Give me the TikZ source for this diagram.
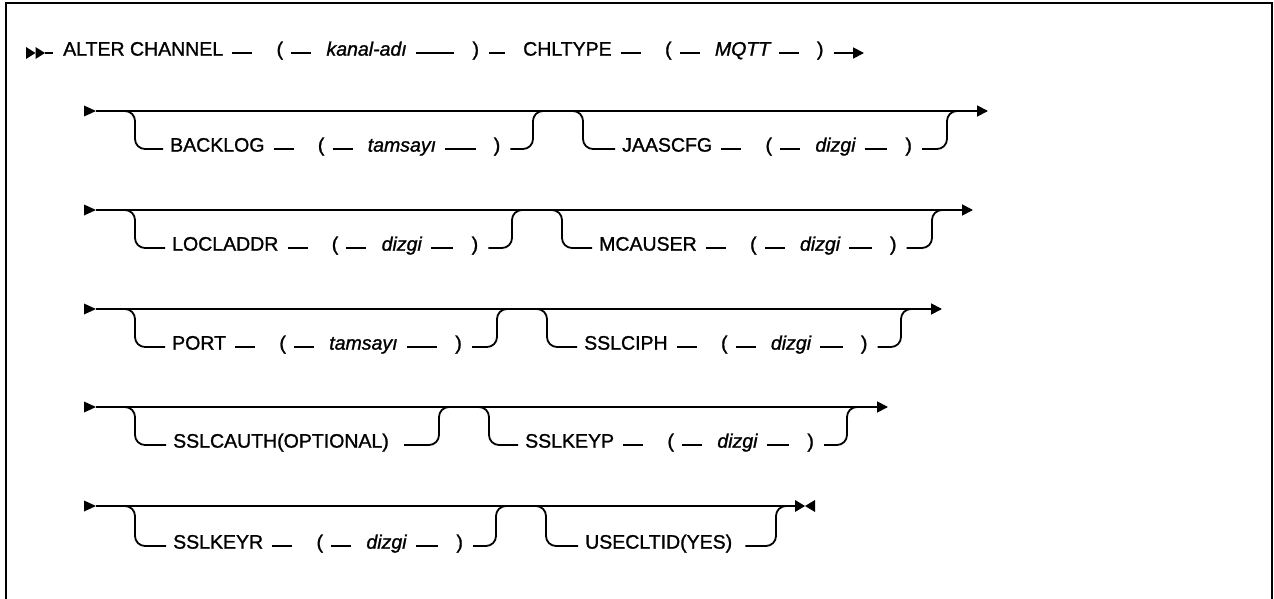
\documentclass[tikz,border=0pt]{standalone}
\usepackage{fontspec}
\setmainfont{Liberation Sans}
\newfontfamily\dfont{Liberation Sans}[FakeBold=1.2]
\usetikzlibrary{arrows.meta}
\newcommand\pgrp[6]{%
  \node[tok] (#1k) at (#2,#3) {#4};
  \node[tok] (#1o) at ([xshift=53pt]#1k.mid east) {(};
  \node[val] (#1v) at ([xshift=43pt]#1o.mid east) {#5};
  \node[tok] (#1c) at ([xshift=#6pt]#1v.mid west) {)};
  \draw[ln] ([xshift=9pt]#1k.mid east) -- ([xshift=-24pt]#1o.mid west);
  \draw[ln] ([xshift=8pt]#1o.mid east) -- ([xshift=-15pt]#1v.mid west);
  \draw[ln] ([xshift=9pt]#1v.mid east) -- ([xshift=-18pt]#1c.mid west);
}
\newcommand\rowstart[2]{%
  \fill (84,#2-5.5) -- (96,#2) -- (84,#2+5.5) -- cycle;
  \coordinate (#1s) at (96,#2);
}
\begin{document}
\begin{tikzpicture}[x=1pt,y=-1pt,
  tok/.style={inner sep=0pt,anchor=mid west,font=\dfont\fontsize{19.5}{23}\selectfont},
  val/.style={tok,font=\dfont\fontsize{19.5}{23}\selectfont\itshape},
  ln/.style={line width=1.8pt},
  brn/.style={line width=1.8pt,rounded corners=10pt},
  tip/.style={-{Triangle[length=11pt,width=11pt]}}]
\useasboundingbox (0,0) rectangle (1274,599);
\fill[white] (0,0) rectangle (1274,599);
\draw[line width=2pt] (6,599) -- (6,3) -- (1272,3) -- (1272,599);

% Row 1
\fill (26,47) -- (35.5,53) -- (26,59) -- cycle;
\fill (35.5,47) -- (45,53) -- (35.5,59) -- cycle;
\coordinate (r1s) at (45,53);
\pgrp{r1a}{63}{53}{ALTER CHANNEL}{kanal-adı}{146}
\pgrp{r1b}{523}{53}{CHLTYPE}{MQTT}{102}
\coordinate (r1e) at (864,53);
\draw[ln] (r1s) -- ([xshift=-10pt]r1ak.mid west);
\draw[ln] ([xshift=10pt]r1ac.mid east) -- ([xshift=-18pt]r1bk.mid west);
\draw[ln,tip] ([xshift=10pt]r1bc.mid east) -- (r1e);

% Row 2
\rowstart{r2}{111}
\coordinate (r2d1) at (135,111); \coordinate (r2u1) at (533,111);
\coordinate (r2d2) at (583,111); \coordinate (r2u2) at (947,111);
\coordinate (r2e) at (988,111);
\draw[ln,tip] (r2s) -- (r2e);
\pgrp{r2a}{170}{149}{BACKLOG}{tamsayı}{126}
\pgrp{r2b}{622}{149}{JAASCFG}{dizgi}{90}
\draw[brn] ([xshift=-15pt]r2d1) -- (r2d1) -- (r2d1 |- r2ak.mid west) -- ([xshift=-7pt]r2ak.mid west);
\draw[brn] ([xshift=10pt]r2ac.mid east) -- (r2ac.mid east -| r2u1) -- (r2u1) -- ([xshift=15pt]r2u1);
\draw[brn] ([xshift=-15pt]r2d2) -- (r2d2) -- (r2d2 |- r2bk.mid west) -- ([xshift=-7pt]r2bk.mid west);
\draw[brn] ([xshift=10pt]r2bc.mid east) -- (r2bc.mid east -| r2u2) -- (r2u2) -- ([xshift=15pt]r2u2);

% Row 3
\rowstart{r3}{210}
\coordinate (r3d1) at (135,210); \coordinate (r3u1) at (512,210);
\coordinate (r3d2) at (562,210); \coordinate (r3u2) at (932,210);
\coordinate (r3e) at (973,210);
\draw[ln,tip] (r3s) -- (r3e);
\pgrp{r3a}{172}{248}{LOCLADDR}{dizgi}{90}
\pgrp{r3b}{599}{248}{MCAUSER}{dizgi}{90}
\draw[brn] ([xshift=-15pt]r3d1) -- (r3d1) -- (r3d1 |- r3ak.mid west) -- ([xshift=-7pt]r3ak.mid west);
\draw[brn] ([xshift=10pt]r3ac.mid east) -- (r3ac.mid east -| r3u1) -- (r3u1) -- ([xshift=15pt]r3u1);
\draw[brn] ([xshift=-15pt]r3d2) -- (r3d2) -- (r3d2 |- r3bk.mid west) -- ([xshift=-7pt]r3bk.mid west);
\draw[brn] ([xshift=10pt]r3bc.mid east) -- (r3bc.mid east -| r3u2) -- (r3u2) -- ([xshift=15pt]r3u2);

% Row 4
\rowstart{r4}{309}
\coordinate (r4d1) at (135,309); \coordinate (r4u1) at (497,309);
\coordinate (r4d2) at (547,309); \coordinate (r4u2) at (901,309);
\coordinate (r4e) at (942,309);
\draw[ln,tip] (r4s) -- (r4e);
\pgrp{r4a}{172}{347}{PORT}{tamsayı}{126}
\pgrp{r4b}{584}{347}{SSLCIPH}{dizgi}{90}
\draw[brn] ([xshift=-15pt]r4d1) -- (r4d1) -- (r4d1 |- r4ak.mid west) -- ([xshift=-7pt]r4ak.mid west);
\draw[brn] ([xshift=10pt]r4ac.mid east) -- (r4ac.mid east -| r4u1) -- (r4u1) -- ([xshift=15pt]r4u1);
\draw[brn] ([xshift=-15pt]r4d2) -- (r4d2) -- (r4d2 |- r4bk.mid west) -- ([xshift=-7pt]r4bk.mid west);
\draw[brn] ([xshift=10pt]r4bc.mid east) -- (r4bc.mid east -| r4u2) -- (r4u2) -- ([xshift=15pt]r4u2);

% Row 5
\rowstart{r5}{407}
\coordinate (r5d1) at (135,407); \coordinate (r5u1) at (439,407);
\coordinate (r5d2) at (489,407); \coordinate (r5u2) at (847,407);
\coordinate (r5e) at (888,407);
\draw[ln,tip] (r5s) -- (r5e);
\node[tok] (r5ak) at (173,445) {SSLCAUTH(OPTIONAL)};
\pgrp{r5b}{525}{445}{SSLKEYP}{dizgi}{90}
\draw[brn] ([xshift=-15pt]r5d1) -- (r5d1) -- (r5d1 |- r5ak.mid west) -- ([xshift=-7pt]r5ak.mid west);
\draw[brn] ([xshift=15pt]r5ak.mid east) -- (r5ak.mid east -| r5u1) -- (r5u1) -- ([xshift=15pt]r5u1);
\draw[brn] ([xshift=-15pt]r5d2) -- (r5d2) -- (r5d2 |- r5bk.mid west) -- ([xshift=-7pt]r5bk.mid west);
\draw[brn] ([xshift=10pt]r5bc.mid east) -- (r5bc.mid east -| r5u2) -- (r5u2) -- ([xshift=15pt]r5u2);

% Row 6
\rowstart{r6}{506}
\coordinate (r6d1) at (135,506); \coordinate (r6u1) at (496,506);
\coordinate (r6d2) at (546,506); \coordinate (r6u2) at (776,506);
\coordinate (r6e) at (795,506);
\draw[ln] (r6s) -- (r6e);
\pgrp{r6a}{173}{546}{SSLKEYR}{dizgi}{90}
\node[tok] (r6bk) at (585,546) {USECLTID(YES)};
\draw[brn] ([xshift=-15pt]r6d1) -- (r6d1) -- (r6d1 |- r6ak.mid west) -- ([xshift=-7pt]r6ak.mid west);
\draw[brn] ([xshift=10pt]r6ac.mid east) -- (r6ac.mid east -| r6u1) -- (r6u1) -- ([xshift=15pt]r6u1);
\draw[brn] ([xshift=-15pt]r6d2) -- (r6d2) -- (r6d2 |- r6bk.mid west) -- ([xshift=-7pt]r6bk.mid west);
\draw[brn] ([xshift=13pt]r6bk.mid east) -- (r6bk.mid east -| r6u2) -- (r6u2) -- ([xshift=10pt]r6u2);
\fill (795,500) -- (805,506) -- (795,512) -- cycle;
\fill (815,500) -- (805,506) -- (815,512) -- cycle;
\end{tikzpicture}
\end{document}
